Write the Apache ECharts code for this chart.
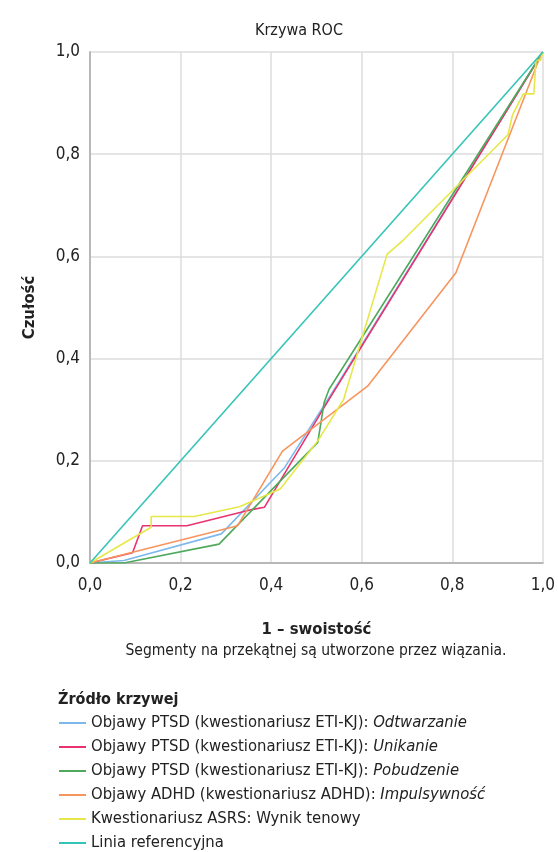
<!DOCTYPE html>
<html>
<head>
<meta charset="utf-8">
<script src="https://cdn.jsdelivr.net/npm/echarts@6/dist/echarts.min.js"></script>
<style>
    html, body { margin: 0; padding: 0; background: #fff; }
    #chart { width: 558px; height: 852px; }
</style>
</head>
<body>
<div id="chart"></div>
<script>
// dane (1 - swoistość, czułość)
var odtwarzanieX = [0, 0.075, 0.29, 0.43, 0.55, 1];
var odtwarzanieY = [0, 0.005, 0.057, 0.187, 0.355, 1];

var unikanieX = [0, 0.094, 0.116, 0.214, 0.36, 0.385, 0.514, 1];
var unikanieY = [0, 0.02, 0.073, 0.073, 0.105, 0.109, 0.30, 1];

var pobudzenieX = [0, 0.075, 0.285, 0.503, 0.517, 0.528, 1];
var pobudzenieY = [0, 0, 0.037, 0.236, 0.314, 0.34, 1];

var impulsywnoscX = [0, 0.326, 0.425, 0.613, 0.808, 0.99, 1];
var impulsywnoscY = [0, 0.073, 0.219, 0.346, 0.568, 0.982, 1];

var asrsX = [0, 0.135, 0.135, 0.23, 0.33, 0.42, 0.503, 0.56, 0.656, 0.693, 0.923, 0.933, 0.957, 0.98, 0.985, 0.995, 1];
var asrsY = [0, 0.07, 0.091, 0.091, 0.11, 0.145, 0.239, 0.32, 0.604, 0.633, 0.838, 0.877, 0.918, 0.918, 0.984, 0.984, 1];

var referencjaX = [0, 1];
var referencjaY = [0, 1];

var nazwy = [
    "Objawy PTSD (kwestionariusz ETI-KJ): {i|Odtwarzanie}",
    "Objawy PTSD (kwestionariusz ETI-KJ): {i|Unikanie}",
    "Objawy PTSD (kwestionariusz ETI-KJ): {i|Pobudzenie}",
    "Objawy ADHD (kwestionariusz ADHD): {i|Impulsywność}",
    "Kwestionariusz ASRS: Wynik tenowy",
    "Linia referencyjna"
];
var kolory = ['#7db8ec', '#e8336e', '#4fa95c', '#f7955e', '#e6e84a', '#35c4b8'];

var FONT = "'DejaVu Sans Condensed', 'DejaVu Sans', sans-serif";

function pary(xs, ys) {
    var out = [];
    for (var i = 0; i < xs.length; i++) {
        out.push([xs[i], ys[i]]);
    }
    return out;
}

function fmt(v) {
    return v.toFixed(1).replace('.', ',');
}

var dane = [
    pary(odtwarzanieX, odtwarzanieY),
    pary(unikanieX, unikanieY),
    pary(pobudzenieX, pobudzenieY),
    pary(impulsywnoscX, impulsywnoscY),
    pary(asrsX, asrsY),
    pary(referencjaX, referencjaY)
];

var seriesData = [];
for (var i = 0; i < nazwy.length; i++) {
    seriesData.push({
        name: nazwy[i],
        type: 'line',
        data: dane[i],
        symbol: 'none',
        animation: false,
        lineStyle: { width: 1.6, color: kolory[i] },
        itemStyle: { color: kolory[i] }
    });
}

var option = {
    color: kolory,
    textStyle: { fontFamily: FONT },
    title: {
        text: 'Krzywa ROC',
        left: 294,
        top: 18,
        textAlign: 'center',
        textStyle: { fontFamily: FONT, fontSize: 16, fontWeight: 'normal', color: '#222' }
    },
    grid: {
        left: 90,
        top: 52,
        width: 453,
        height: 511
    },
    xAxis: {
        type: 'value',
        min: 0,
        max: 1,
        interval: 0.2,
        name: '1 – swoistość',
        nameLocation: 'middle',
        nameGap: 58,
        nameTextStyle: { fontFamily: FONT, fontSize: 16.5, fontWeight: 'bold', color: '#222' },
        axisLine: { lineStyle: { color: '#b8b8b8', width: 2 } },
        axisTick: { show: false },
        axisLabel: { formatter: fmt, fontFamily: FONT, fontSize: 17, color: '#222', margin: 14 },
        splitLine: { show: true, lineStyle: { color: '#dcdcdc', width: 1.5 } }
    },
    yAxis: {
        type: 'value',
        min: 0,
        max: 1,
        interval: 0.2,
        name: 'Czułość',
        nameLocation: 'middle',
        nameGap: 52,
        nameRotate: 90,
        nameTextStyle: { fontFamily: FONT, fontSize: 16.5, fontWeight: 'bold', color: '#222' },
        axisLine: { show: true, lineStyle: { color: '#b8b8b8', width: 2 } },
        axisTick: { show: false },
        axisLabel: { formatter: fmt, fontFamily: FONT, fontSize: 17, color: '#222', margin: 10 },
        splitLine: { show: true, lineStyle: { color: '#dcdcdc', width: 1.5 } }
    },
    legend: {
        orient: 'vertical',
        left: 59,
        top: 713,
        height: 180,
        padding: 0,
        icon: 'rect',
        itemWidth: 27,
        itemHeight: 2,
        itemGap: 4,
        selectedMode: false,
        data: nazwy,
        textStyle: {
            fontFamily: FONT,
            fontSize: 16.5,
            lineHeight: 20,
            color: '#222',
            rich: {
                i: { fontFamily: FONT, fontSize: 16.5, fontStyle: 'italic', color: '#222' }
            }
        }
    },
    graphic: [
        {
            type: 'text',
            x: 316,
            y: 651,
            style: {
                text: 'Segmenty na przekątnej są utworzone przez wiązania.',
                font: '15.5px ' + FONT,
                fill: '#222',
                align: 'center',
                verticalAlign: 'middle'
            }
        },
        {
            type: 'text',
            x: 58,
            y: 700,
            style: {
                text: 'Źródło krzywej',
                font: 'bold 16px ' + FONT,
                fill: '#222',
                verticalAlign: 'middle'
            }
        }
    ],
    series: seriesData
};

var dom_chart = echarts.init(document.getElementById('chart'));
dom_chart.setOption(option);
</script>
</body>
</html>
